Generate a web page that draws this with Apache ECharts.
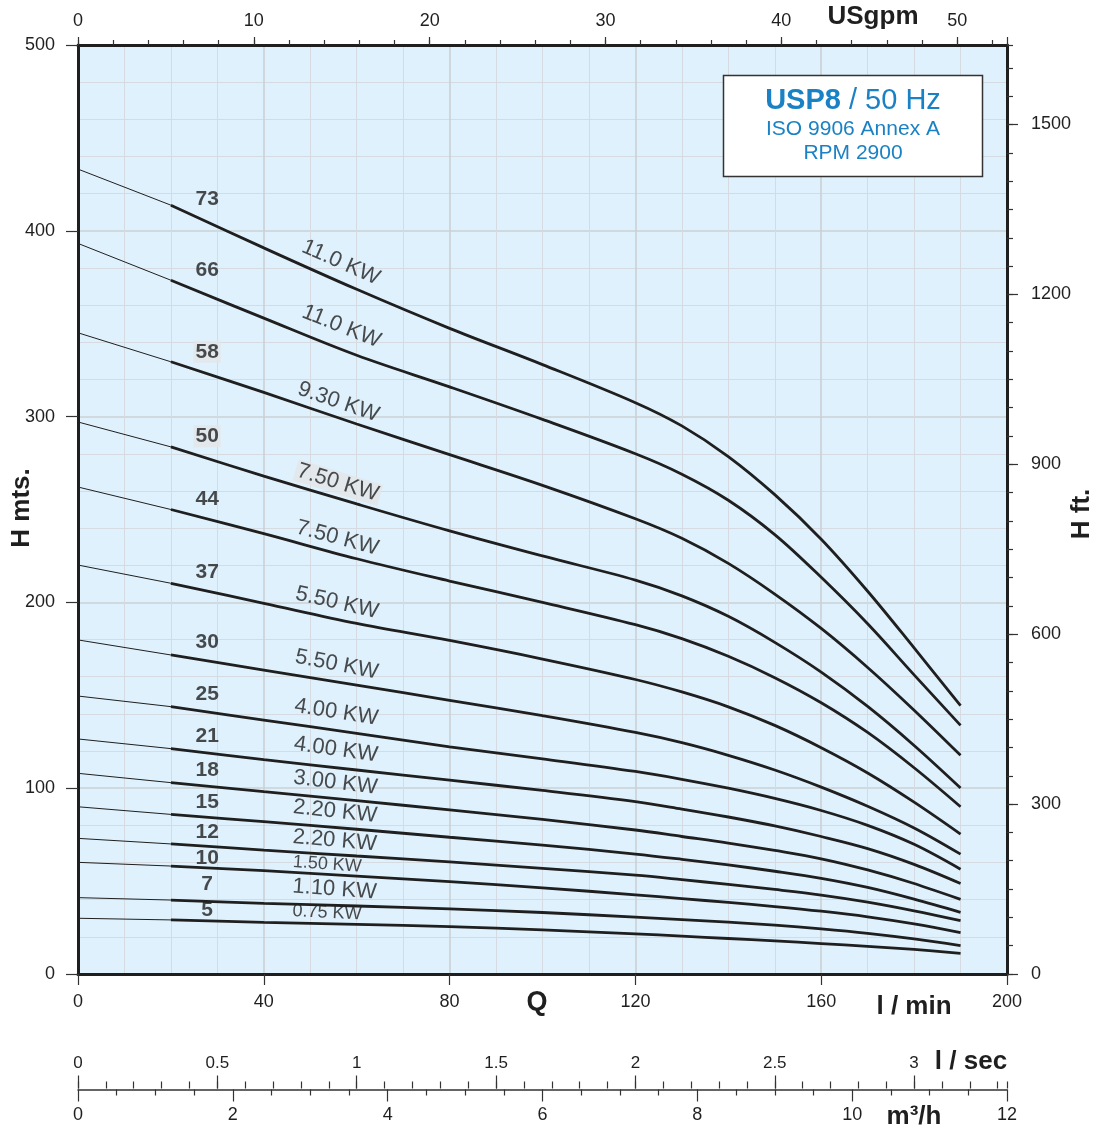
<!DOCTYPE html>
<html>
<head>
<meta charset="utf-8">
<script src="https://cdn.jsdelivr.net/npm/echarts@6/dist/echarts.min.js"></script>
<style>
html,body{margin:0;padding:0;background:#ffffff;}
#chart{width:1102px;height:1130px;}
</style>
</head>
<body>
<div id="chart"></div>
<script>
// ---------------- DATA ----------------
const flowLmin = [0, 20, 40, 60, 80, 100, 120, 130, 140, 150, 160, 170, 180, 190];
const stages   = [73, 66, 58, 50, 44, 37, 30, 25, 21, 18, 15, 12, 10, 7, 5];
const motorKW  = ['11.0 KW','11.0 KW','9.30 KW','7.50 KW','7.50 KW','5.50 KW','5.50 KW',
                  '4.00 KW','4.00 KW','3.00 KW','2.20 KW','2.20 KW','1.50 KW','1.10 KW','0.75 KW'];

const head73 = [433.2, 413.8, 390.8, 368.5, 347.5, 328.0, 307.5, 295.0, 278.5, 258.0, 234.0, 206.0, 175.5, 144.4];
const head66 = [393.2, 373.4, 353.0, 333.0, 316.0, 298.5, 280.0, 269.0, 255.0, 236.5, 213.5, 188.5, 161.0, 133.8];
const head58 = [345.1, 329.5, 313.0, 296.0, 279.5, 263.0, 245.0, 234.5, 221.0, 204.5, 186.0, 165.0, 142.0, 117.7];
const head50 = [297.1, 283.7, 268.0, 253.0, 238.5, 225.0, 212.0, 203.5, 192.5, 178.5, 162.5, 144.0, 123.0, 100.1];
const head44 = [262.1, 250.0, 237.0, 223.5, 211.5, 200.0, 188.0, 180.5, 171.0, 159.5, 146.0, 130.0, 111.0, 90.0];
const head37 = [220.1, 210.3, 199.5, 188.7, 179.5, 169.5, 158.5, 151.8, 143.8, 133.8, 121.8, 108.2, 92.5, 75.3];
const head30 = [179.8, 171.7, 163.6, 155.5, 147.3, 139.0, 130.0, 124.5, 117.7, 109.8, 100.6, 90.3, 78.6, 64.5];
const head25 = [149.6, 143.9, 136.7, 129.5, 122.3, 115.8, 109.0, 104.8, 100.0, 94.5, 88.0, 80.0, 69.8, 56.4];
const head21 = [126.5, 121.3, 115.4, 109.8, 104.3, 98.8, 92.8, 88.8, 84.5, 79.7, 74.0, 67.5, 59.0, 48.7];
const head18 = [108.0, 103.0, 98.1, 93.3, 88.3, 83.2, 77.5, 74.0, 70.5, 66.5, 62.0, 56.0, 48.7, 40.2];
const head15 = [90.0, 85.9, 82.0, 77.9, 73.6, 69.4, 64.5, 61.7, 58.7, 55.3, 51.5, 46.6, 40.3, 33.2];
const head12 = [73.0, 70.0, 66.7, 63.5, 60.3, 56.9, 53.2, 50.8, 48.2, 45.5, 42.5, 38.7, 34.0, 28.7];
const head10 = [60.1, 58.1, 55.6, 52.7, 49.7, 46.4, 42.6, 40.6, 38.5, 36.3, 33.8, 30.8, 27.0, 22.3];
const head7  = [41.1, 39.8, 38.0, 36.6, 35.0, 33.1, 30.6, 29.3, 27.9, 26.3, 24.3, 21.9, 18.9, 15.3];
const head5  = [30.0, 29.1, 27.8, 26.7, 25.5, 23.7, 21.6, 20.4, 19.1, 17.8, 16.4, 14.9, 13.2, 11.1];

const heads = [head73, head66, head58, head50, head44, head37, head30, head25, head21, head18, head15, head12, head10, head7, head5];

// axis ranges & unit conversions
const flowMax = 200;            // l/min
const headMax = 500;            // m
const LMIN_PER_USGPM = 3.785411784;
const M_PER_FT = 0.3048;
const LMIN_PER_LSEC = 60;
const LMIN_PER_M3H = 1000 / 60;

// ---------------- LAYOUT / STYLE ----------------
const FONT = "'Liberation Sans', Arial, Helvetica, sans-serif";
const INK = '#1f1f1f';
const BLUE = '#1a82c4';
const G = {left: 78, top: 45, width: 929, height: 929};
const STAGE_Q = 27.8, KW_Q = 55, KW_Q_SMALL = 53.5;
const stageDy = [-23, -25, -22, -22, -20, -19, -19, -18, -17, -16, -15, -14, -10, -17, -11];
const kwDy    = [-18, -21, -15, -15, -15, -16, -17, -18, -18, -16, -16, -14, -10, -16, -11];
const kwRot   = [24, 22, 19, 17, 15, 13, 11, 9, 8, 7, 6, 5, 4, 4, 3];
const kwSmall = [false,false,false,false,false,false,false,false,false,false,false,false,true,false,true];
const shadedStage = [false,false,true,true,false,false,false,false,false,false,false,false,false,false,false];
const shadedKW    = [false,false,false,true,false,false,false,false,false,false,false,false,false,false,false];

function headAt(h, q) {
  for (let k = 0; k < flowLmin.length - 1; k++) {
    if (q >= flowLmin[k] && q <= flowLmin[k + 1]) {
      const t = (q - flowLmin[k]) / (flowLmin[k + 1] - flowLmin[k]);
      return h[k] + t * (h[k + 1] - h[k]);
    }
  }
  return h[h.length - 1];
}
function multipleOf(step) {
  return function (v) {
    const r = v / step;
    return Math.abs(r - Math.round(r)) < 1e-6 ? String(Math.round(r * step * 1000) / 1000) : '';
  };
}

// ---------------- SERIES ----------------
const series = [];
heads.forEach(function (h) {
  series.push({
    type: 'line', xAxisIndex: 0, yAxisIndex: 0, silent: true, z: 3,
    symbol: 'none', animation: false,
    data: [[flowLmin[0], h[0]], [flowLmin[1], h[1]]],
    lineStyle: {color: INK, width: 1}
  });
  series.push({
    type: 'line', xAxisIndex: 0, yAxisIndex: 0, silent: true, z: 4,
    symbol: 'none', smooth: 0.35, animation: false,
    data: flowLmin.slice(1).map(function (q, k) { return [q, h[k + 1]]; }),
    lineStyle: {color: INK, width: 2.8}
  });
});

series.push({
  type: 'scatter', xAxisIndex: 0, yAxisIndex: 0, silent: true, z: 6, animation: false,
  symbolSize: 1, itemStyle: {color: 'rgba(0,0,0,0)'},
  label: {show: true, position: 'inside', fontSize: 21, fontWeight: 'bold', color: INK, fontFamily: FONT},
  data: stages.map(function (s, i) {
    return {
      value: [STAGE_Q, headAt(heads[i], STAGE_Q)],
      label: {formatter: String(s), offset: [0, stageDy[i]],
              backgroundColor: shadedStage[i] ? '#e3e6e9' : 'transparent', padding: [1, 2, 0, 2]}
    };
  })
});

series.push({
  type: 'scatter', xAxisIndex: 0, yAxisIndex: 0, silent: true, z: 6, animation: false,
  symbolSize: 1, itemStyle: {color: 'rgba(0,0,0,0)'},
  label: {show: true, position: 'inside', color: '#202020', fontFamily: FONT},
  data: motorKW.map(function (t, i) {
    const q = kwSmall[i] ? KW_Q_SMALL : KW_Q;
    return {
      value: [q, headAt(heads[i], q)],
      label: {formatter: t, offset: [0, kwDy[i]], rotate: -kwRot[i],
              fontSize: kwSmall[i] ? 18 : 22,
              backgroundColor: shadedKW[i] ? '#e3e6e9' : 'transparent', padding: [0, 2, 0, 2]}
    };
  })
});

// ---------------- AXES ----------------
const tickStyle = {color: '#333', width: 1.2};
const labelBase = {color: INK, fontFamily: FONT, fontSize: 18};
const majorGrid = {color: '#cbd0d4', width: 1.6};
const minorGrid = {color: '#d5dbe0', width: 1};

const xAxes = [
  { // 0: l/min bottom
    type: 'value', gridIndex: 0, position: 'bottom', min: 0, max: flowMax, interval: 40,
    axisLine: {show: true, onZero: false, lineStyle: {color: INK, width: 3}},
    axisTick: {show: true, length: 11, lineStyle: tickStyle},
    axisLabel: Object.assign({margin: 19}, labelBase),
    splitLine: {show: true, lineStyle: majorGrid},
    minorTick: {show: false, splitNumber: 4},
    minorSplitLine: {show: true, lineStyle: minorGrid}
  },
  { // 1: USgpm top minor
    type: 'value', gridIndex: 0, position: 'top', min: 0, max: flowMax / LMIN_PER_USGPM, interval: 2,
    axisLine: {show: true, onZero: false, lineStyle: {color: INK, width: 3}},
    axisTick: {show: true, length: 5, lineStyle: tickStyle},
    axisLabel: Object.assign({margin: 15, formatter: multipleOf(10), showMaxLabel: false}, labelBase),
    splitLine: {show: false}
  },
  { // 2: USgpm top major ticks
    type: 'value', gridIndex: 0, position: 'top', min: 0, max: flowMax / LMIN_PER_USGPM, interval: 10,
    axisLine: {show: false, onZero: false},
    axisTick: {show: true, length: 8, lineStyle: tickStyle},
    axisLabel: {show: false},
    splitLine: {show: false}
  },
  { // 3: l/sec minor
    type: 'value', gridIndex: 1, position: 'top', min: 0, max: flowMax / LMIN_PER_LSEC, interval: 0.1,
    axisLine: {show: false, onZero: false},
    axisTick: {show: true, length: 7, lineStyle: tickStyle},
    axisLabel: {show: false},
    splitLine: {show: false}
  },
  { // 4: l/sec major
    type: 'value', gridIndex: 1, position: 'top', min: 0, max: flowMax / LMIN_PER_LSEC, interval: 0.5,
    axisLine: {show: false, onZero: false},
    axisTick: {show: true, length: 13, lineStyle: tickStyle},
    axisLabel: {show: true, margin: 17, color: INK, fontFamily: FONT, fontSize: 17,
                formatter: multipleOf(0.5), showMaxLabel: false},
    splitLine: {show: false}
  },
  { // 5: m3/h
    type: 'value', gridIndex: 1, position: 'bottom', min: 0, max: flowMax / LMIN_PER_M3H, interval: 2,
    axisLine: {show: true, onZero: false, lineStyle: {color: '#333', width: 1.5}},
    axisTick: {show: true, length: 12, lineStyle: tickStyle},
    minorTick: {show: true, splitNumber: 4, length: 6, lineStyle: tickStyle},
    axisLabel: Object.assign({margin: 17}, labelBase),
    splitLine: {show: false}
  }
];

const yAxes = [
  { // 0: H m left
    type: 'value', gridIndex: 0, position: 'left', min: 0, max: headMax, interval: 100,
    axisLine: {show: true, onZero: false, lineStyle: {color: INK, width: 3}},
    axisTick: {show: true, length: 12, lineStyle: tickStyle},
    axisLabel: Object.assign({margin: 23}, labelBase),
    splitLine: {show: true, lineStyle: majorGrid},
    minorTick: {show: false, splitNumber: 5},
    minorSplitLine: {show: true, lineStyle: minorGrid}
  },
  { // 1: H ft right minor ticks
    type: 'value', gridIndex: 0, position: 'right', min: 0, max: headMax / M_PER_FT, interval: 50,
    axisLine: {show: true, onZero: false, lineStyle: {color: INK, width: 3}},
    axisTick: {show: true, length: 6, lineStyle: tickStyle},
    axisLabel: {show: false},
    splitLine: {show: false}
  },
  { // 2: H ft right major
    type: 'value', gridIndex: 0, position: 'right', min: 0, max: headMax / M_PER_FT, interval: 300,
    axisLine: {show: false, onZero: false},
    axisTick: {show: true, length: 11, lineStyle: tickStyle},
    axisLabel: Object.assign({margin: 24, formatter: multipleOf(300), showMaxLabel: false}, labelBase),
    splitLine: {show: false}
  },
  { // 3: dummy for lower scale grid
    type: 'value', gridIndex: 1, min: 0, max: 1, show: false
  }
];

// ---------------- TEXT ----------------
function txt(x, y, text, size, extra) {
  return Object.assign({
    type: 'text', x: x, y: y, z: 100, silent: true,
    style: {text: text, fill: INK, font: 'bold ' + size + 'px ' + FONT, align: 'center', verticalAlign: 'middle'}
  }, extra || {});
}

const graphic = [
  {type: 'rect', z: 100, silent: true, shape: {x: 723.5, y: 75.5, width: 259, height: 101},
   style: {fill: '#ffffff', stroke: '#333333', lineWidth: 1.5}},
  {type: 'text', x: 853, y: 101, z: 101, silent: true,
   style: {text: '{a|USP8}{b| / 50 Hz}', align: 'center', verticalAlign: 'middle',
           rich: {a: {fontSize: 29, fontWeight: 'bold', fill: BLUE, fontFamily: FONT},
                  b: {fontSize: 29, fill: BLUE, fontFamily: FONT}}}},
  {type: 'text', x: 853, y: 129.5, z: 101, silent: true,
   style: {text: 'ISO 9906 Annex A', fill: BLUE, font: '21px ' + FONT, align: 'center', verticalAlign: 'middle'}},
  {type: 'text', x: 853, y: 153.5, z: 101, silent: true,
   style: {text: 'RPM 2900', fill: BLUE, font: '21px ' + FONT, align: 'center', verticalAlign: 'middle'}},
  txt(873, 17, 'USgpm', 26),
  txt(537, 1003, 'Q', 27),
  txt(914, 1007, 'l / min', 26),
  txt(971, 1062, 'l / sec', 26),
  txt(914, 1117, 'm³/h', 26),
  txt(22, 508, 'H mts.', 26, {rotation: Math.PI / 2}),
  txt(1082, 514, 'H ft.', 26, {rotation: Math.PI / 2})
];

const chart = echarts.init(document.getElementById('chart'), null, {renderer: 'canvas'});
chart.setOption({
  animation: false,
  backgroundColor: '#ffffff',
  grid: [
    {left: G.left, top: G.top, width: G.width, height: G.height, show: true,
     backgroundColor: '#dff1fc', borderWidth: 0, containLabel: false},
    {left: G.left, top: 1088.5, width: G.width, height: 1, show: false, containLabel: false}
  ],
  xAxis: xAxes,
  yAxis: yAxes,
  series: series,
  graphic: graphic
});
</script>
</body>
</html>
